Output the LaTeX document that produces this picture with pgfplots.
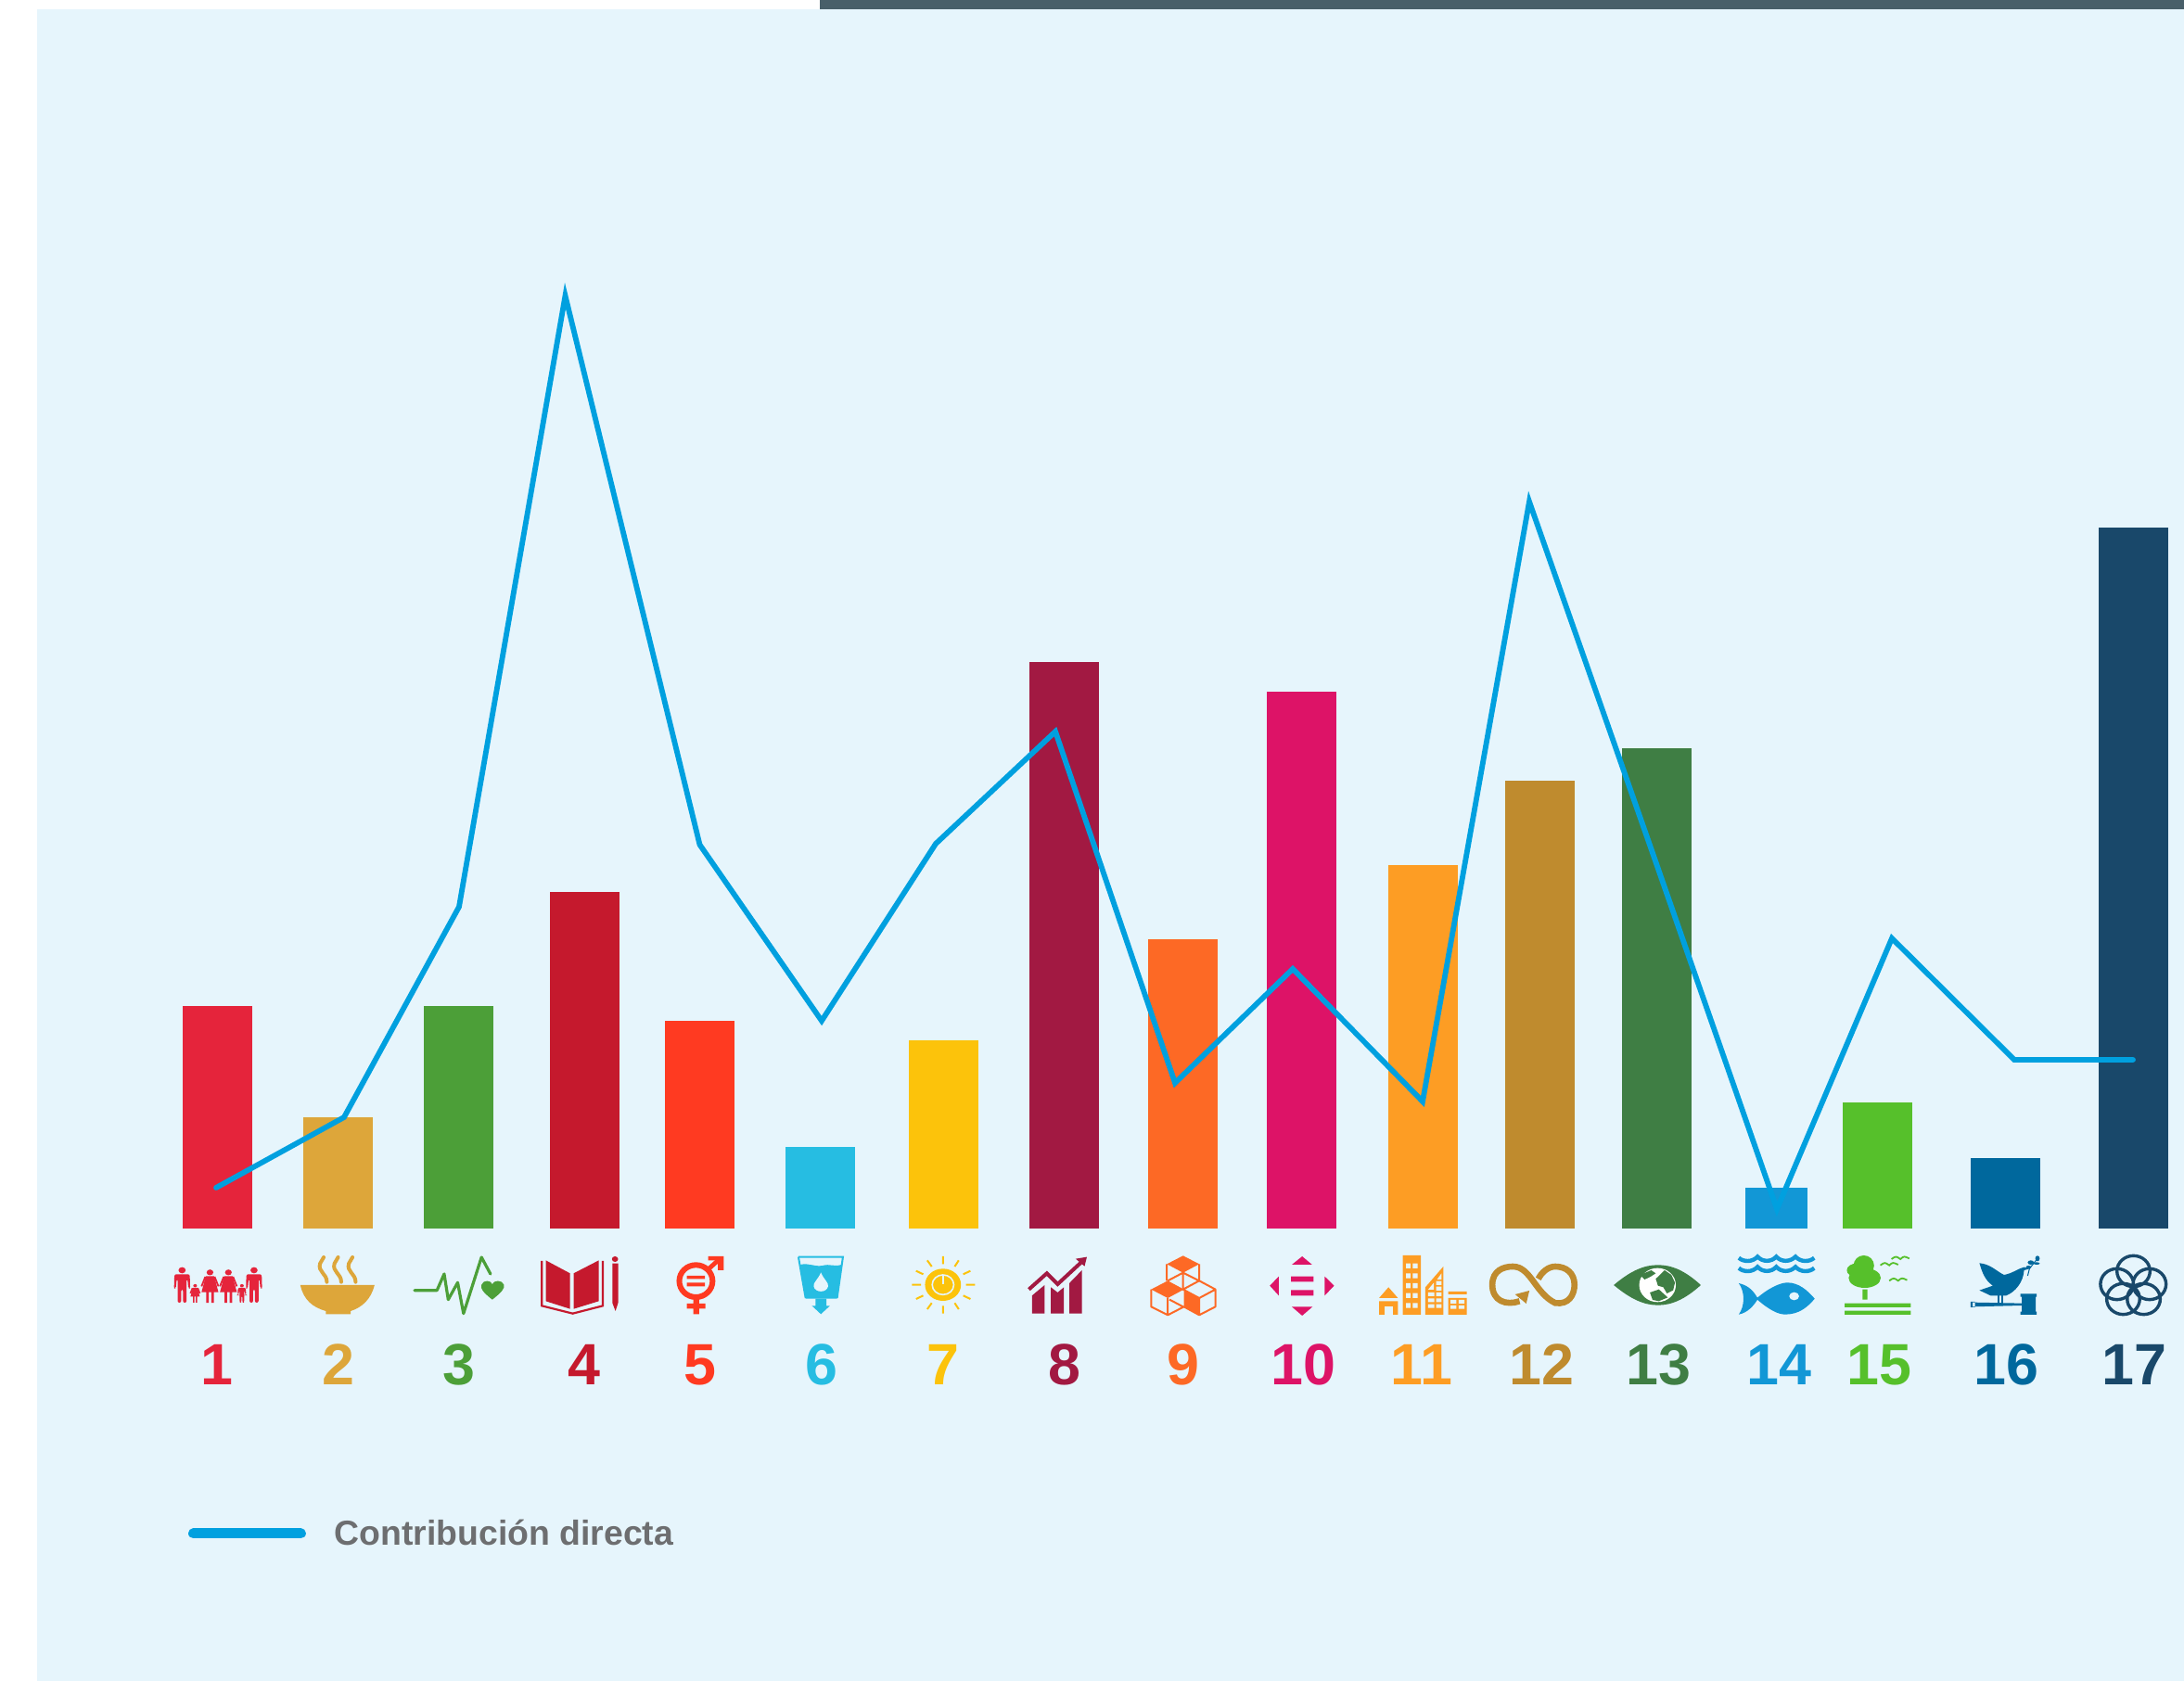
\documentclass[border=0pt]{standalone}
\usepackage{fontspec}
\setmainfont{Liberation Sans}
\usepackage{pgfplots}
\pgfplotsset{compat=1.18}
\definecolor{sa}{HTML}{E5243B}\definecolor{sb}{HTML}{DDA63A}\definecolor{sc}{HTML}{4C9F38}
\definecolor{sd}{HTML}{C5192D}\definecolor{se}{HTML}{FF3A21}\definecolor{sf}{HTML}{26BDE2}
\definecolor{sg}{HTML}{FCC30B}\definecolor{sh}{HTML}{A21942}\definecolor{si}{HTML}{FD6925}
\definecolor{sj}{HTML}{DD1367}\definecolor{sk}{HTML}{FD9D24}\definecolor{sl}{HTML}{BF8B2E}
\definecolor{sm}{HTML}{3F7E44}\definecolor{sn}{HTML}{1297D6}\definecolor{so}{HTML}{56C02B}
\definecolor{sp}{HTML}{00689D}\definecolor{sq}{HTML}{19486A}
\definecolor{panel}{HTML}{E6F5FC}\definecolor{dark}{HTML}{485F69}
\definecolor{lineblue}{HTML}{00A0DF}\definecolor{leg}{HTML}{6D6E70}
\newcommand{\sdgbar}[4][75]{\addplot[ybar,bar shift=0pt,bar width=#1,fill=#4,draw=none,forget plot] coordinates {(#2,#3)};}
\newcommand{\sdgnum}[3]{\node[anchor=base,text=#3,font=\fontsize{31.4}{32}\selectfont\bfseries,inner sep=0pt] at (axis cs:#1,-169) {#2};}
\newcommand{\man}[3]{\begin{scope}[shift={(#1,#2)},scale=#3]
\fill (0,0) ellipse [x radius=8,y radius=10];
\fill[rounded corners=1pt] (-17,13)--(17,13)--(18,60)--(14,60)--(12,28)--(10,28)--(10,105)--(2,105)--(2,62)--(-2,62)--(-2,105)--(-10,105)--(-10,28)--(-12,28)--(-14,60)--(-18,60)--cycle;
\end{scope}}
\newcommand{\woman}[3]{\begin{scope}[shift={(#1,#2)},scale=#3]
\fill (0,0) ellipse [x radius=8,y radius=10];
\fill (-10,13)--(10,13)--(20,68)--(9,68)--(9,105)--(3,105)--(3,68)--(-3,68)--(-3,105)--(-9,105)--(-9,68)--(-20,68)--cycle;
\draw[line width=.9pt] (-11,15)--(-20,48) (11,15)--(20,48);
\end{scope}}
\newcommand{\bird}[2]{\draw[line width=.9pt] (#1-20,#2+4) .. controls (#1-10,#2-6) .. (#1,#2+4) .. controls (#1+8,#2-6) .. (#1+20,#2+2);}
\newcommand{\scallop}[1]{\draw[sn,line width=2.2pt] (571,#1+4) .. controls (582,#1+18) and (602,#1+18) .. (613,#1) .. controls (624,#1+18) and (644,#1+18) .. (655,#1) .. controls (666,#1+18) and (686,#1+18) .. (698,#1) .. controls (709,#1+18) and (729,#1+18) .. (740,#1+4);}
\begin{document}
\begin{tikzpicture}
\useasboundingbox (0,0) rectangle (1177.5pt,906.5pt);
\begin{scope}[x=0.5pt,y=-0.5pt,shift={(0,906.5pt)}]
\fill[panel] (40,10) rectangle (2355,1813);
\fill[dark] (884,0) rectangle (2355,10);
\end{scope}
\begin{axis}[
  at={(0,0)},anchor=south west,scale only axis,
  width=1177.5pt,height=906.5pt,
  xmin=0,xmax=2355,ymin=-488,ymax=1325,
  axis lines=none,ticks=none,
  legend cell align=left,
  legend style={draw=none,fill=none,inner sep=0pt,outer sep=0pt,
    at={(axis cs:203,-329)},anchor=west,
    font=\fontsize{18.7}{20}\selectfont\bfseries\color{leg},
    /tikz/every even column/.append style={column sep=0pt}},
  legend image code/.code={\draw[line width=5.5pt,line cap=round,color=lineblue] (2.75pt,0) -- (60.7pt,0);\path[draw=none] (0,0)--(76.7pt,0);},
]
\sdgbar{234.5}{240}{sa}
\sdgbar{364.5}{120}{sb}
\sdgbar{494.5}{240}{sc}
\sdgbar{630.5}{363}{sd}
\sdgbar{754.5}{224}{se}
\sdgbar{884.5}{88}{sf}
\sdgbar{1017.5}{203}{sg}
\sdgbar{1147.5}{610.5}{sh}
\sdgbar{1275.5}{312}{si}
\sdgbar{1403.5}{579}{sj}
\sdgbar{1534.5}{392}{sk}
\sdgbar{1660.5}{483}{sl}
\sdgbar{1786.5}{518}{sm}
\sdgbar[67]{1915.5}{44}{sn}
\sdgbar{2024.5}{136}{so}
\sdgbar{2162.5}{75.5}{sp}
\sdgbar{2300.5}{756}{sq}
\addplot[color=lineblue,line width=2.9pt,line join=miter,miter limit=20,line cap=round] coordinates {
(233,44)(371,120)(495,347)(609.5,1006)(754.5,414)(886,224)(1009,415)(1138,536)(1267,157)
(1394,280)(1534,137)(1649,784)(1782,405)(1916,21)(2040,313)(2172,182)(2300,182)};
\addlegendentry{Contribución directa}
\sdgnum{234}{1}{sa}\sdgnum{365}{2}{sb}\sdgnum{495}{3}{sc}\sdgnum{630}{4}{sd}
\sdgnum{755}{5}{se}\sdgnum{886}{6}{sf}\sdgnum{1017}{7}{sg}\sdgnum{1148}{8}{sh}
\sdgnum{1276}{9}{si}\sdgnum{1405.5}{10}{sj}\sdgnum{1533}{11}{sk}\sdgnum{1662}{12}{sl}
\sdgnum{1788}{13}{sm}\sdgnum{1918}{14}{sn}\sdgnum{2026}{15}{so}\sdgnum{2163}{16}{sp}\sdgnum{2301}{17}{sq}
\end{axis}
% icons 1-6
\begin{scope}[x=0.24237pt,y=-0.16667pt,shift={(80pt,246.5pt)}]
\begin{scope}[color=sa,fill=sa,draw=sa]
\man{75}{150}{1}\woman{137}{157}{.94}\woman{178}{157}{.94}\man{235}{150}{1}
\woman{104}{200}{.52}\man{208}{200}{.52}
\end{scope}
\fill[sb] (338,198)--(503,198) .. controls (495,245) and (475,270) .. (450,282) -- (450,292)--(395,292)--(395,282) .. controls (365,270) and (345,245) .. (338,198)--cycle;
\foreach \d in {0,32,64}{\draw[sb,line width=2pt,line cap=round,xshift=\d*0.24237pt] (397,188) .. controls (397,160) and (376,155) .. (382,128) .. controls (384,118) .. (390,108);}
\draw[sc,line width=1.6pt,line join=round,line cap=round] (592,215)--(642,215)--(658,162)--(667,245)--(688,190)--(701,290)--(741,108)--(761,162);
\fill[sc] (765,245) .. controls (745,222) and (738,210) .. (741,197) .. controls (745,180) and (762,182) .. (765,195) .. controls (768,182) and (787,180) .. (791,197) .. controls (793,210) and (785,222) .. (765,245);
\fill[sd] (884,118)--(938,160)--(938,275)--(884,250)--cycle (946,160)--(1002,118)--(1002,250)--(946,275)--cycle;
\draw[sd,line width=1.1pt] (875,120)--(875,265)--(944,290)--(1011,265)--(1011,120);
\fill[sd] (1038,114) ellipse [x radius=7,y radius=9];
\fill[sd] (1032,128)--(1045,128)--(1045,255)--(1039,282)--(1032,255)--cycle;
\draw[se,line width=3pt] (1218,185) ellipse [x radius=37,y radius=52];
\fill[se] (1198,168) rectangle (1238,178) (1198,190) rectangle (1238,202) (1212,240) rectangle (1225,292) (1198,258) rectangle (1239,274);
\fill[se] (1245,105)--(1280,105)--(1280,150)--(1267,150)--(1267,118)--(1245,118)--cycle;
\draw[se,line width=2.4pt] (1246,146)--(1272,112);
\draw[sf,line width=1pt] (1446,107)--(1545,107)--(1532,240);
\draw[sf,line width=1pt] (1446,107)--(1462,240);
\fill[sf] (1450,132) .. controls (1470,125) and (1480,140) .. (1500,135) .. controls (1515,128) and (1525,140) .. (1542,132) -- (1532,242)--(1462,242)--cycle;
\fill[panel] (1496,157) .. controls (1490,180) and (1478,190) .. (1480,202) .. controls (1483,224) and (1509,224) .. (1512,202) .. controls (1514,190) and (1502,180) .. (1496,157);
\fill[sf] (1484,242)--(1508,242)--(1508,265)--(1516,265)--(1496,292)--(1476,265)--(1484,265)--cycle;
\end{scope}
% icons 7-11
\begin{scope}[x=0.24237pt,y=-0.16667pt,shift={(450pt,246.5pt)}]
\fill[sg] (241,197) ellipse [x radius=40,y radius=52];
\draw[panel,line width=.8pt] (241,197) ellipse [x radius=24,y radius=32];
\fill[sg] (241,198) ellipse [x radius=14,y radius=20];
\draw[panel,line width=.8pt] (241,165)--(241,195);
\draw[sg,line width=1pt] (241,105)--(241,130) (276,118)--(267,138) (302,152)--(286,163) (312,197)--(292,197) (302,243)--(286,232) (276,276)--(267,256) (241,290)--(241,265) (206,276)--(216,256) (181,243)--(197,232) (172,197)--(192,197) (181,152)--(197,163) (206,118)--(216,138);
\fill[sh] (439,290)--(439,232)--(467,198)--(467,290)--cycle (481,290)--(481,205)--(496,222)--(510,205)--(510,290)--cycle (522,290)--(522,192)--(550,150)--(550,290)--cycle;
\draw[sh,line width=2pt] (432,212)--(472,160)--(496,195)--(548,125);
\fill[sh] (536,113)--(561,107)--(556,137)--cycle;
\draw[si,line width=1pt,line join=round] (739,130)--(739,184) (811,130)--(811,184) (775,158)--(775,212) (741,184)--(775,158)--(811,184) (704,212)--(704,268)--(741,295)--(777,268)--(811,295)--(847,268)--(847,212)--(811,184)--(775,212)--(811,240)--(847,212) (741,240)--(741,295) (811,240)--(811,295) (745,245)--(775,268);
\fill[si] (775,103)--(811,130)--(775,158)--(739,130)--cycle (741,184)--(777,212)--(741,240)--(704,212)--cycle (777,215)--(811,240)--(811,295)--(777,268)--cycle;
\fill[sj] (1040,105)--(1017,132)--(1062,132)--cycle (1017,268)--(1063,268)--(1040,297)--cycle (988,170)--(988,232)--(968,200)--cycle (1090,170)--(1090,232)--(1111,200)--cycle (1015,170) rectangle (1065,187) (1015,214) rectangle (1065,232);
\fill[sk] (1232,205)--(1211,240)--(1253,240)--cycle (1211,250)--(1253,250)--(1253,294)--(1242,294)--(1242,267)--(1223,267)--(1223,294)--(1211,294)--cycle (1264,102) rectangle (1304,294) (1314,294)--(1314,205)--(1354,138)--(1354,294)--cycle (1365,219) rectangle (1406,228) (1365,240) rectangle (1406,294);
\foreach \r in {128,160,192,224,256}{\fill[panel] (1271,\r) rectangle (1281,\r+16) (1286,\r) rectangle (1297,\r+16);}
\foreach \r in {222,241,260}{\fill[panel] (1320,\r) rectangle (1334,\r+12) (1338,\r) rectangle (1350,\r+12);}
\fill[panel] (1338,185) rectangle (1350,198) (1338,203) rectangle (1350,216) (1320,213)--(1333,190)--(1333,213)--cycle (1340,180)--(1350,160)--(1350,180)--cycle;
\fill[panel] (1370,246) rectangle (1383,258) (1388,246) rectangle (1401,258) (1370,264) rectangle (1383,275) (1388,264) rectangle (1401,275);
\end{scope}
% icons 12-17
\begin{scope}[x=0.24073pt,y=-0.16667pt,shift={(800pt,246.5pt)}]
\draw[sl,line width=3.3pt] (80,250) .. controls (50,265) and (19,250) .. (19,197) .. controls (19,150) and (45,138) .. (65,138) .. controls (105,138) and (115,225) .. (160,256) .. controls (190,262) and (203,230) .. (203,197) .. controls (203,160) and (185,138) .. (160,138) .. controls (145,138) and (130,155) .. (122,178);
\fill[sl] (70,228)--(102,216)--(95,258)--cycle;
\fill[sm] (291,198) .. controls (330,150) and (360,133) .. (390,133) .. controls (420,133) and (450,150) .. (486,198) .. controls (450,245) and (420,263) .. (390,263) .. controls (360,263) and (330,245) .. (291,198)--cycle;
\fill[white] (389,198) ellipse [x radius=41,y radius=55];
\fill[sm] (350,165)--(375,150)--(385,160)--(372,172)--(360,180)--cycle (385,178)--(405,150)--(420,165)--(428,190)--(424,215)--(410,225)--(402,205)--(390,200)--cycle (372,222)--(392,212)--(412,238)--(392,250)--(378,246)--cycle;
\scallop{106}\scallop{139}
\fill[sn] (610,242) .. controls (640,205) and (665,190) .. (680,190) .. controls (705,190) and (725,215) .. (741,242) .. controls (725,270) and (705,293) .. (675,293) .. controls (660,293) and (640,280) .. (610,242)--cycle;
\fill[sn] (571,192) .. controls (595,200) and (605,220) .. (614,242) .. controls (605,265) and (590,288) .. (571,293) .. controls (585,265) and (585,220) .. (571,192)--cycle;
\fill[panel] (695,234) ellipse [x radius=11,y radius=13];
\fill[so] (851,135) ellipse [x radius=23,y radius=33] (835,150) ellipse [x radius=22,y radius=22] (853,175) ellipse [x radius=36,y radius=32] (848,212) rectangle (859,245) (808,257) rectangle (956,270) (808,281) rectangle (956,294);
\begin{scope}[color=so,draw=so]\bird{908}{130}\bird{933}{110}\bird{928}{180}\end{scope}
\fill[sp] (1110,127) .. controls (1135,130) and (1150,155) .. (1165,165) .. controls (1185,160) and (1195,145) .. (1210,140) -- (1222,145) -- (1210,150) .. controls (1208,190) and (1190,220) .. (1170,232) -- (1135,232) -- (1110,215)--(1140,200) .. controls (1120,180) and (1115,150) .. (1110,127)--cycle;
\draw[sp,line width=1pt] (1152,232)--(1152,258) (1162,232)--(1162,258);
\fill[sp] (1095,254)--(1205,257)--(1205,264)--(1095,268)--cycle (1090,252) rectangle (1100,270) (1205,236) rectangle (1236,286) (1202,226) rectangle (1238,236) (1202,284) rectangle (1238,294);
\draw[sp,line width=.5pt] (1218,168)--(1222,145)--(1240,112);
\fill[sp] (1240,112) ellipse [x radius=5,y radius=9] (1225,125) ellipse [x radius=7,y radius=7] (1238,128) ellipse [x radius=7,y radius=4] (1220,140) ellipse [x radius=6,y radius=5];
\draw[sq,line width=1.7pt] (1455,153) ellipse [x radius=37,y radius=50] (1418,195) ellipse [x radius=37,y radius=50] (1491,195) ellipse [x radius=37,y radius=50] (1432,243) ellipse [x radius=37,y radius=50] (1478,243) ellipse [x radius=37,y radius=50];
\end{scope}
\end{tikzpicture}
\end{document}
